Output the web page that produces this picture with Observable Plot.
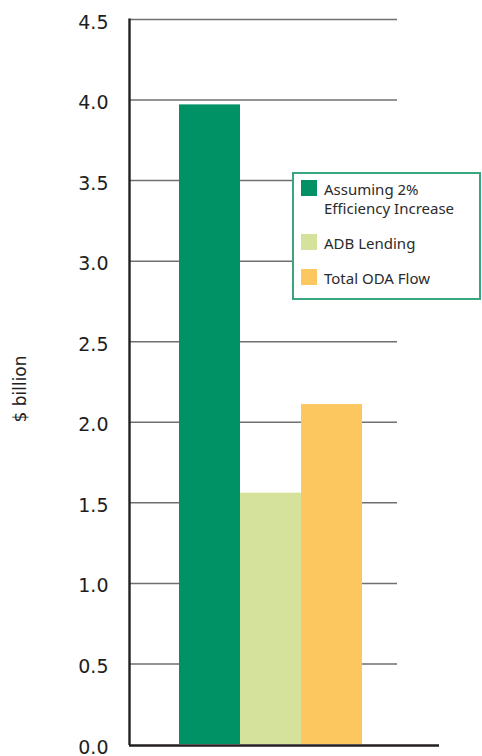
<!DOCTYPE html>
<html>
<head>
<meta charset="utf-8">
<script src="https://cdn.jsdelivr.net/npm/d3@7"></script>
<script src="https://cdn.jsdelivr.net/npm/@observablehq/plot@0.6"></script>
<style>
  html, body { margin: 0; padding: 0; background: #fff; }
  #wrap { position: relative; width: 482px; height: 756px; overflow: hidden; font-family: "Noto Sans", "Open Sans", sans-serif; }
  #legend { position: absolute; left: 292px; top: 172px; width: 185px; height: 124px; border: 2px solid #3aa67e; background: #fff; }
  .item { position: absolute; left: 7px; display: flex; align-items: flex-start; font-size: 15px; line-height: 19px; color: #2b2b2b; }
  .sw { width: 16px; height: 16px; margin-right: 7px; flex: none; margin-top: 0px; }
</style>
</head>
<body>
<div id="wrap"><div id="legend"></div></div>
<script>
const categories = ["Assuming 2%\nEfficiency Increase", "ADB Lending", "Total ODA Flow"];
const values = [3.97, 1.56, 2.11];
const colors = ["#009265", "#d4e29c", "#fdc75f"];
const yTicks = [0, 0.5, 1.0, 1.5, 2.0, 2.5, 3.0, 3.5, 4.0, 4.5];
const yTickLabels = ["0.0", "0.5", "1.0", "1.5", "2.0", "2.5", "3.0", "3.5", "4.0", "4.5"];
const yLabel = "$ billion";

const data = categories.map((c, i) => ({category: c, value: values[i], color: colors[i]}));

const leftAxisLine = (index, scales, values, dims) => {
  const g = d3.create("svg:g");
  g.append("line")
    .attr("x1", dims.marginLeft + 0.5).attr("x2", dims.marginLeft + 0.5)
    .attr("y1", scales.y(4.5) - 0.5).attr("y2", scales.y(0) + 1)
    .attr("stroke", "#231f20").attr("stroke-width", 2.4);
  return g.node();
};

const chart = Plot.plot({
  width: 482,
  height: 756,
  marginLeft: 129,
  marginTop: 19,
  marginBottom: 12,
  marginRight: 43,
  style: {fontFamily: "'DejaVu Sans', sans-serif", background: "transparent", overflow: "visible"},
  x: {domain: categories, range: [178, 362], padding: 0, axis: null},
  y: {domain: [0, 4.5], range: [744, 19]},
  marks: [
    Plot.ruleY(yTicks.filter(d => d > 0), {y: d => d, stroke: "#6f6f6f", strokeWidth: 1.5, insetRight: 42}),
    Plot.barY(data, {x: "category", y: "value", fill: "color"}),
    Plot.axisY(yTicks, {tickSize: 0, tickPadding: 21, fontSize: 19, fill: "#1e1e1e", dy: 3,
      fontFamily: "DejaVu Sans", tickFormat: d => yTickLabels[yTicks.indexOf(d)], label: null}),
    Plot.ruleY([0], {stroke: "#231f20", strokeWidth: 2.5, dy: 1}),
    leftAxisLine,
    Plot.text([yLabel], {frameAnchor: "left", textAnchor: "middle", dx: -109, dy: 7, rotate: -90, fontSize: 17,
      fontFamily: "DejaVu Sans", fill: "#222", text: d => d})
  ]
});

document.getElementById("wrap").prepend(chart);

// legend
const legend = document.getElementById("legend");
const tops = [6, 60, 95];
categories.forEach((c, i) => {
  const item = document.createElement("div");
  item.className = "item";
  item.style.top = tops[i] + "px";
  const sw = document.createElement("div");
  sw.className = "sw";
  sw.style.background = colors[i];
  const txt = document.createElement("div");
  txt.innerHTML = c.split("\n").join("<br>");
  item.appendChild(sw);
  item.appendChild(txt);
  legend.appendChild(item);
});
</script>
</body>
</html>
